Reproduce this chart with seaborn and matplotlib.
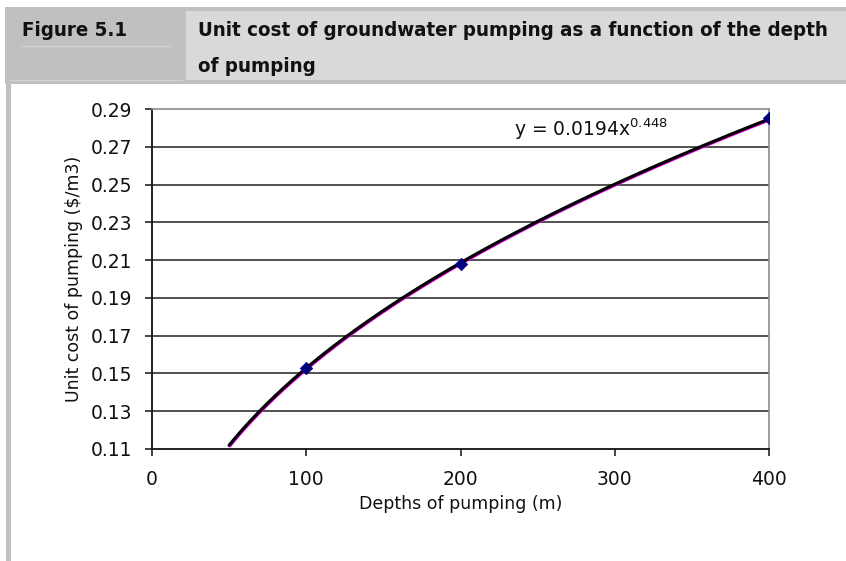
import numpy as np
import pandas as pd
import matplotlib
matplotlib.use("Agg")
import matplotlib.pyplot as plt
import matplotlib.transforms as mtransforms
from matplotlib.patches import Rectangle
from matplotlib.lines import Line2D
from matplotlib.ticker import FormatStrFormatter
import seaborn as sns

# data
depths = [100, 200, 400]
unit_cost = [0.153, 0.208, 0.285]
trend_start = 50
fig_label = "Figure 5.1"
title_lines = ["Unit cost of groundwater pumping as a function of the depth",
               "of pumping"]
equation = r"y = 0.0194x$^{0.448}$"
x_ticks = [0, 100, 200, 300, 400]
y_ticks = [0.11, 0.13, 0.15, 0.17, 0.19, 0.21, 0.23, 0.25, 0.27, 0.29]

df = pd.DataFrame({"Depth": depths, "Cost": unit_cost})

# power trendline fitted to the points (like Excel's)
b, log_a = np.polyfit(np.log(df["Depth"]), np.log(df["Cost"]), 1)
xs = np.linspace(trend_start, max(depths), 200)
trend = pd.DataFrame({"Depth": xs, "Cost": np.exp(log_a) * xs ** b})

sns.set_theme(style="white")
plt.rcParams["font.family"] = ["DejaVu Sans"]
plt.rcParams["mathtext.default"] = "regular"

W, H = 846, 561
fig = plt.figure(figsize=(W / 100, H / 100), dpi=100)
fig.patch.set_facecolor("white")


def px(x, y):
    return x / W, 1 - y / H


# header band
dark = "#c0c0c0"
fig.patches.append(Rectangle(px(5, 84), 841 / W, 77 / H, transform=fig.transFigure,
                             facecolor=dark, edgecolor="none", zorder=0))
fig.patches.append(Rectangle(px(186, 80), 660 / W, 69 / H, transform=fig.transFigure,
                             facecolor="#d9d9d9", edgecolor="none", zorder=1))
fig.patches.append(Rectangle(px(6, H), 5 / W, (H - 84) / H, transform=fig.transFigure,
                             facecolor=dark, edgecolor="none", zorder=0))
fig.lines.append(Line2D([22 / W, 170 / W], [1 - 46 / H] * 2, transform=fig.transFigure,
                        color="#d2d2d2", lw=1))
fig.lines.append(Line2D([10 / W, 182 / W], [1 - 80 / H] * 2, transform=fig.transFigure,
                        color="#d2d2d2", lw=1))

hdr_font = dict(family=["Liberation Sans Narrow", "DejaVu Sans"], fontstretch="condensed",
                fontweight="bold", fontsize=14.7, color="#111111")
fig.text(*px(22, 31), fig_label, va="center", ha="left", **hdr_font)
fig.text(*px(198, 31), title_lines[0], va="center", ha="left", **hdr_font)
fig.text(*px(198, 66), title_lines[1], va="center", ha="left", **hdr_font)

ax = fig.add_axes([152 / W, 1 - 449 / H, 617 / W, 340 / H])

# magenta series peeking under the black trendline
sns.lineplot(data=trend, x="Depth", y="Cost", ax=ax, color="#ff00ff", lw=2.0, zorder=3)
off = mtransforms.offset_copy(ax.transData, fig=fig, x=0.8, y=-0.8, units="dots")
ax.lines[-1].set_transform(off)
sns.lineplot(data=trend, x="Depth", y="Cost", ax=ax, color="black", lw=2.3, zorder=4)
sns.scatterplot(data=df, x="Depth", y="Cost", ax=ax, marker="D", s=40,
                color="#000080", edgecolor="#000080", zorder=5)

ax.set_xlim(x_ticks[0], x_ticks[-1])
ax.set_ylim(y_ticks[0], y_ticks[-1])
ax.set_xticks(x_ticks)
ax.set_yticks(y_ticks)
ax.yaxis.set_major_formatter(FormatStrFormatter("%.2f"))

for yv in y_ticks[1:-1]:
    ax.axhline(yv, color="#222222", lw=1.1, zorder=1)

for s in ["left", "bottom"]:
    ax.spines[s].set_color("#111111")
    ax.spines[s].set_linewidth(1.3)
for s in ["top", "right"]:
    ax.spines[s].set_color("#8c8c8c")
    ax.spines[s].set_linewidth(1.2)

ax.tick_params(axis="both", which="major", direction="out", length=5, width=1.1,
               color="#111111", labelsize=13.5, labelcolor="#111111",
               left=True, bottom=True)
ax.tick_params(axis="x", pad=10)
ax.tick_params(axis="y", pad=9)

ax.text(235, 0.2755, equation, fontsize=13.5, color="#111111", ha="left", va="baseline")

ax.set_xlabel("Depths of pumping (m)", fontsize=12.5, color="#111111", labelpad=4.5)
ax.set_ylabel("Unit cost of pumping ($/m3)", fontsize=12.5, color="#111111", labelpad=6)

fig.savefig("out.png", dpi=100)
